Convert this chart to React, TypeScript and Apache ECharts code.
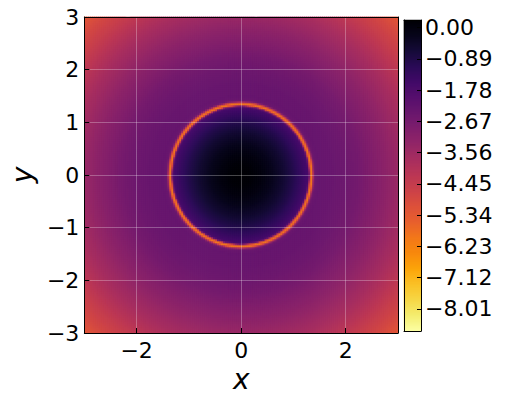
import React, { useEffect, useRef } from "react";
import * as echarts from "echarts";

// Radial profile: radius (axis units) -> value
const profileR = [0, 0.2, 0.4, 0.6, 0.8, 1.0, 1.1, 1.2, 1.28, 1.31, 1.32, 1.34, 1.36, 1.38, 1.39, 1.42, 1.5, 1.75, 2.0, 2.25, 2.5, 2.75, 3.0, 3.25, 3.5, 3.75, 4.0, 4.25];
const profileV = [0.2, 0.15, 0.0, -0.25, -0.55, -0.95, -1.2, -1.45, -1.65, -2.6, -4.6, -5.9, -5.9, -4.6, -3.4, -2.45, -2.35, -2.4, -2.5, -2.65, -2.9, -3.15, -3.45, -3.75, -4.1, -4.5, -4.85, -5.25];

const xTicks = [-2, 0, 2];
const gridXs = [-2, 0, 2];
const gridYs = [-2, -1, 0, 1, 2];
const cbTicks = [0, -0.89, -1.78, -2.67, -3.56, -4.45, -5.34, -6.23, -7.12, -8.01];
const vMin = -8.64;
const vMax = 0.22;

// inferno, from value min (light yellow) to value max (black)
const infernoR = [
  "#fcffa4", "#f4ed70", "#f6d746", "#fac127", "#fca50a", "#f8890c", "#f37819",
  "#e8602d", "#dd513a", "#cc4248", "#bc3754", "#a82e5f", "#932667", "#7f1e6c",
  "#6a176e", "#570f6d", "#420a68", "#2b0b57", "#160b39", "#07051b", "#000004",
];

const N = 158; // grid cells per side
const M = 311; // colorbar bins

function lookup(r: number): number {
  if (r <= profileR[0]) return profileV[0];
  for (let k = 1; k < profileR.length; k++) {
    if (r <= profileR[k]) {
      const t = (r - profileR[k - 1]) / (profileR[k] - profileR[k - 1]);
      return profileV[k - 1] + t * (profileV[k] - profileV[k - 1]);
    }
  }
  return profileV[profileV.length - 1];
}

const minus = (s: string) => s.replace(/-/g, "\u2212");

export default function App() {
  const ref = useRef<HTMLDivElement>(null);
  useEffect(() => {
    document.body.style.margin = "0";
    const chart = echarts.init(ref.current!, null, { renderer: "svg" });
    const h = 3 / N;
    const cells: number[][] = [];
    for (let i = 0; i < N; i++) {
      const x = -3 + ((i + 0.5) * 6) / N;
      for (let j = 0; j < N; j++) {
        const y = -3 + ((j + 0.5) * 6) / N;
        cells.push([x, y, lookup(Math.sqrt(x * x + y * y))]);
      }
    }
    const cbCats: number[] = [];
    const cbData: number[][] = [];
    for (let k = 0; k < M; k++) {
      cbCats.push(k);
      cbData.push([0, k, vMin + ((k + 0.5) * (vMax - vMin)) / M]);
    }
    const sans = "DejaVu Sans";
    const frame = { show: true, lineStyle: { color: "#000", width: 1 } };
    const off = { show: false };
    const gridLineStyle = { color: "rgba(255,255,255,0.28)", width: 1, type: "solid" as const };
    const tickFont = { fontFamily: sans, fontSize: 22, color: "#000" };
    const nameFont = { fontFamily: sans, fontStyle: "italic", fontSize: 28, color: "#000" };
    chart.setOption({
      animation: false,
      grid: [
        { left: 82, top: 17, width: 316, height: 316 },
        { left: 404, top: 20, width: 17, height: 311 },
      ],
      visualMap: {
        type: "continuous",
        show: false,
        min: vMin,
        max: vMax,
        dimension: 2,
        seriesIndex: [0, 1],
        inRange: { color: infernoR },
      },
      xAxis: [
        {
          type: "value", gridIndex: 0, min: -3, max: 3, position: "bottom", z: 10,
          axisLine: { ...frame, onZero: false },
          axisTick: { show: true, inside: true, length: 5, customValues: xTicks, lineStyle: { color: "#000" } },
          axisLabel: { customValues: xTicks, margin: 6, ...tickFont, formatter: (v: number) => minus(String(v)) },
          splitLine: off,
          name: "x", nameLocation: "middle", nameGap: 31,
          nameTextStyle: nameFont,
        },
        {
          type: "value", gridIndex: 0, min: -3, max: 3, position: "top", z: 10,
          axisLine: { ...frame, onZero: false }, axisTick: off, axisLabel: off, splitLine: off,
        },
        {
          type: "category", gridIndex: 1, data: ["c"], position: "bottom", z: 10,
          axisLine: { ...frame, onZero: false }, axisTick: off, axisLabel: off, splitLine: off,
        },
        {
          type: "category", gridIndex: 1, data: ["c"], position: "top", z: 10,
          axisLine: { ...frame, onZero: false }, axisTick: off, axisLabel: off, splitLine: off,
        },
      ],
      yAxis: [
        {
          type: "value", gridIndex: 0, min: -3, max: 3, interval: 1, position: "left", z: 10,
          axisLine: { ...frame, onZero: false },
          axisTick: { show: true, inside: true, length: 5, lineStyle: { color: "#000" } },
          axisLabel: { margin: 5, ...tickFont, formatter: (v: number) => minus(String(v)) },
          splitLine: off,
          name: "y", nameLocation: "middle", nameGap: 44,
          nameTextStyle: nameFont,
        },
        {
          type: "value", gridIndex: 0, min: -3, max: 3, position: "right", z: 10,
          axisLine: { ...frame, onZero: false }, axisTick: off, axisLabel: off, splitLine: off,
        },
        {
          type: "category", gridIndex: 1, data: cbCats, position: "left", z: 10,
          axisLine: { ...frame, onZero: false }, axisTick: off, axisLabel: off, splitLine: off,
        },
        {
          type: "value", gridIndex: 1, min: vMin, max: vMax, position: "right", z: 10,
          axisLine: { ...frame, onZero: false },
          axisTick: { show: true, inside: true, length: 4, customValues: cbTicks, lineStyle: { color: "#000" } },
          axisLabel: { customValues: cbTicks, margin: 4, ...tickFont, formatter: (v: number) => minus(v.toFixed(2)) },
          splitLine: off,
        },
      ],
      series: [
        {
          type: "custom", xAxisIndex: 0, yAxisIndex: 0, data: cells, silent: true,
          progressive: 0, encode: { x: 0, y: 1 },
          renderItem: (params: any, api: any) => {
            const x = api.value(0);
            const y = api.value(1);
            const p0 = api.coord([x - h, y + h]);
            const p1 = api.coord([x + h, y - h]);
            return {
              type: "rect",
              shape: { x: p0[0] - 0.35, y: p0[1] - 0.35, width: p1[0] - p0[0] + 0.7, height: p1[1] - p0[1] + 0.7 },
              style: { fill: api.visual("color") },
            };
          },
        },
        {
          type: "heatmap", xAxisIndex: 2, yAxisIndex: 2, data: cbData,
          progressive: 0, emphasis: { disabled: true }, silent: true,
        },
        {
          type: "line", xAxisIndex: 0, yAxisIndex: 0, data: [], z: 5, silent: true,
          markLine: {
            silent: true, symbol: "none", label: { show: false }, lineStyle: gridLineStyle,
            emphasis: { disabled: true },
            data: [
              ...gridXs.map((v) => ({ xAxis: v })),
              ...gridYs.map((v) => ({ yAxis: v })),
            ],
          },
        },
      ],
    });
    return () => chart.dispose();
  }, []);
  return <div ref={ref} style={{ width: 508, height: 403 }} />;
}
